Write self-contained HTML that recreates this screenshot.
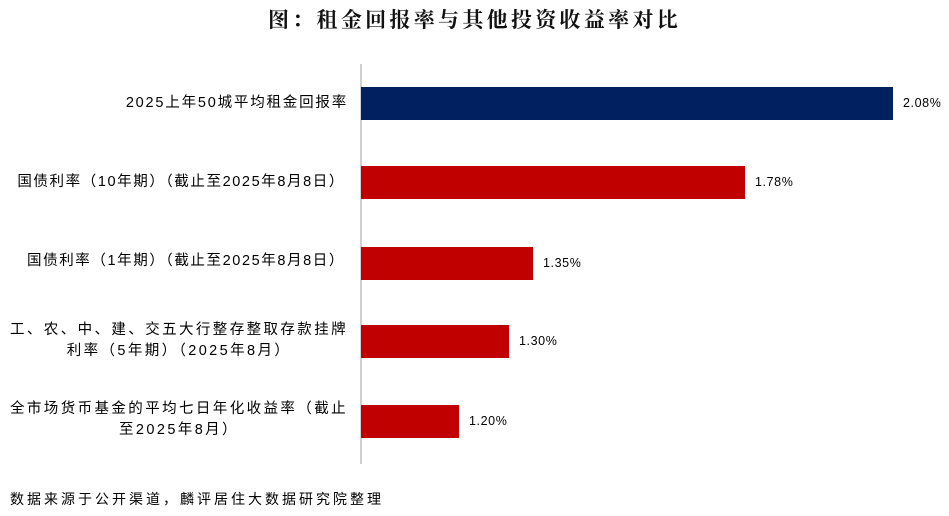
<!DOCTYPE html>
<html><head><meta charset="utf-8"><style>
body{margin:0;width:949px;height:516px;background:#fff;position:relative;overflow:hidden;font-family:"Liberation Sans","Noto Sans CJK SC",sans-serif;color:#000}
.t{position:absolute;left:0;width:949px;top:4px;text-align:center;font-family:"Liberation Serif","Noto Serif CJK SC",serif;font-weight:bold;font-size:21px;color:#111;letter-spacing:3.3px}
.ax{position:absolute;left:360px;top:64px;width:1.5px;height:400px;background:#d0d0d0}
.b{position:absolute;left:361px;height:33px;background:#c00000}
.v{position:absolute;font-size:12.5px;line-height:14px;font-family:"Liberation Sans",sans-serif;letter-spacing:0.6px}
.l{position:absolute;right:601px;text-align:center;font-size:14.5px;line-height:21px;white-space:nowrap;letter-spacing:2.4px}
.s{position:absolute;left:10px;top:489px;font-size:14px;letter-spacing:3px}
</style></head><body>
<div class="t">图：租金回报率与其他投资收益率对比</div>
<div class="ax"></div>
<div class="b" style="top:87px;width:532px;background:#002060"></div>
<div class="v" style="left:903px;top:96px">2.08%</div>
<div class="b" style="top:166px;width:384px"></div>
<div class="v" style="left:755px;top:175px">1.78%</div>
<div class="b" style="top:247px;width:172px"></div>
<div class="v" style="left:543px;top:256px">1.35%</div>
<div class="b" style="top:325px;width:148px"></div>
<div class="v" style="left:519px;top:334px">1.30%</div>
<div class="b" style="top:405px;width:98px"></div>
<div class="v" style="left:469px;top:414px">1.20%</div>
<div class="l" style="top:93px;letter-spacing:1.8px">2025上年50城平均租金回报率</div>
<div class="l" style="top:172px;right:604px;letter-spacing:1.6px">国债利率（10年期）（截止至2025年8月8日）</div>
<div class="l" style="top:251px;right:604px;letter-spacing:1.6px">国债利率（1年期）（截止至2025年8月8日）</div>
<div class="l" style="top:320px">工、农、中、建、交五大行整存整取存款挂牌<br>利率（5年期）（2025年8月）</div>
<div class="l" style="top:399px">全市场货币基金的平均七日年化收益率（截止<br>至2025年8月）</div>
<div class="s">数据来源于公开渠道，麟评居住大数据研究院整理</div>
</body></html>
